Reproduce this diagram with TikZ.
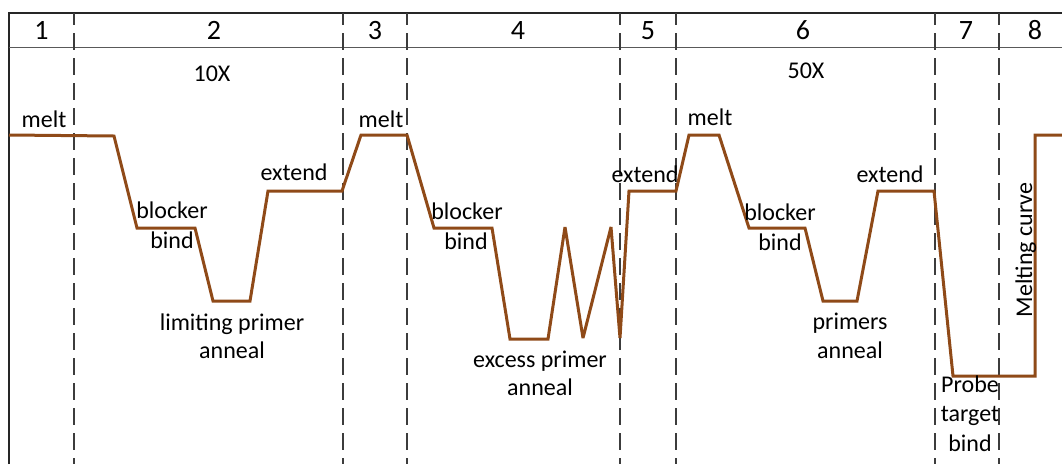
\documentclass[tikz,border=0pt]{standalone}
\usepackage{fontspec}
\setmainfont{Carlito}
\definecolor{curvebrown}{RGB}{143,74,24}
\definecolor{sepgray}{RGB}{60,60,60}
\begin{document}
\begin{tikzpicture}[x=1pt,y=-1pt,
  lbl/.style={font=\fontsize{24}{29}\selectfont, inner sep=0pt, anchor=base, text=black},
  hdr/.style={font=\fontsize{28}{32}\selectfont, inner sep=0pt, anchor=base, text=black},
  sepline/.style={draw=sepgray, line width=2pt, dash pattern=on 17pt off 8pt, dash phase=5pt},
  frameline/.style={draw=black!85, line width=2pt},
  headline/.style={draw=black!65, line width=1.8pt},
  profile/.style={draw=curvebrown, line width=3pt, line join=miter, miter limit=4}]
\useasboundingbox (0,0) rectangle (1062,464);
% frame
\draw[frameline] (9,464) -- (9,13) -- (1062,13);
\draw[headline] (9,47.5) -- (1062,47.5);
% stage separators
\foreach \x in {74,342.5,407,619.5,676,934.5,999}
  \draw[sepline] (\x,13) -- (\x,464);
% header numbers
\node[hdr] (h1) at (41.5,39) {1};
\node[hdr] (h2) at (214,39) {2};
\node[hdr] (h3) at (375,39) {3};
\node[hdr] (h4) at (518,39) {4};
\node[hdr] (h5) at (648,39) {5};
\node[hdr] (h6) at (803,39) {6};
\node[hdr] (h7) at (966,39) {7};
\node[hdr] (h8) at (1035,39) {8};
% temperature profile
\draw[profile] (9,135) -- (114,136) -- (137,228) -- (195,228) -- (213,301) -- (250,301)
  -- (268,191) -- (342,191) -- (361,135) -- (407,135) -- (434,228) -- (492,228)
  -- (510,339) -- (548,339) -- (565,227) -- (583,338) -- (611,227) -- (620,338)
  -- (629,191) -- (676,191) -- (689,135) -- (719,135) -- (749,228) -- (805,228)
  -- (823,301) -- (857,301) -- (878,191) -- (934,191) -- (953,376) -- (1035,376)
  -- (1035,135) -- (1062,135);
% labels
\node[lbl] (melt1) at (44,127) {melt};
\node[lbl] (cyc10) at (212,81) {10X};
\node[lbl] (ext2) at (294,180) {extend};
\node[lbl] (blk2) at (172,218) {blocker};
\node[lbl] (bnd2) at (172,248) {bind};
\node[lbl] (lim1) at (232,330) {limiting primer};
\node[lbl] (lim2) at (232,358) {anneal};
\node[lbl] (melt3) at (381,127) {melt};
\node[lbl] (blk4) at (467,219) {blocker};
\node[lbl] (bnd4) at (466,249) {bind};
\node[lbl] (exc1) at (540,367) {excess primer};
\node[lbl] (exc2) at (540,395) {anneal};
\node[lbl] (ext5) at (645,182) {extend};
\node[lbl] (melt6) at (710,125) {melt};
\node[lbl] (cyc50) at (806,78) {50X};
\node[lbl] (ext6) at (890,182) {extend};
\node[lbl] (blk6) at (780,220) {blocker};
\node[lbl] (bnd6) at (780,250) {bind};
\node[lbl] (pri1) at (850,329) {primers};
\node[lbl] (pri2) at (850,358) {anneal};
\node[lbl] (prb1) at (970,392) {Probe};
\node[lbl] (prb2) at (970,421) {target};
\node[lbl] (prb3) at (970,451) {bind};
\node[lbl, rotate=90] (mcurve) at (1032,250) {Melting curve};
\end{tikzpicture}
\end{document}
